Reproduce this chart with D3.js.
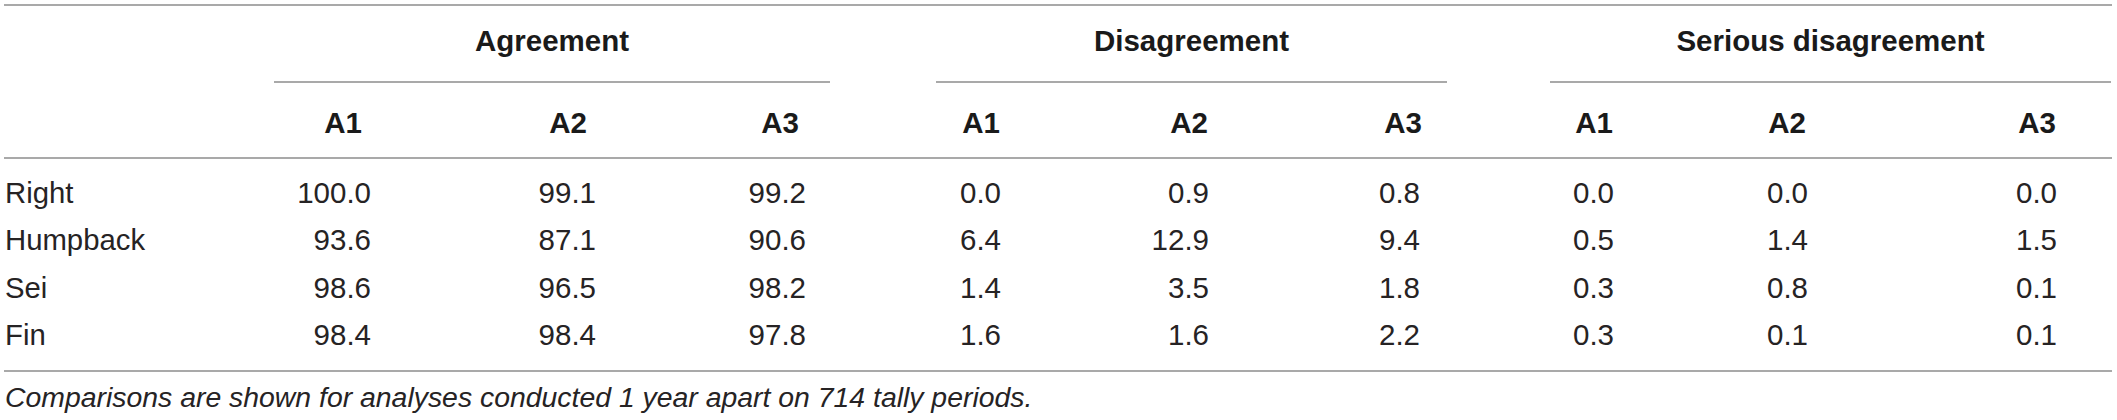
<!DOCTYPE html>
<html>
<head>
<meta charset="utf-8">
<script src="https://cdn.jsdelivr.net/npm/d3@7/dist/d3.min.js"></script>
<style>
  html, body { margin: 0; padding: 0; background: #fff; }
  svg { display: block; }
</style>
</head>
<body>
<svg id="tbl" width="2117" height="420"></svg>
<script>
// table values (percent)
const species = ['Right', 'Humpback', 'Sei', 'Fin'];
const groups = ['Agreement', 'Disagreement', 'Serious disagreement'];
const analyses = ['A1', 'A2', 'A3'];

const agreement = [
  [100.0, 99.1, 99.2],
  [93.6, 87.1, 90.6],
  [98.6, 96.5, 98.2],
  [98.4, 98.4, 97.8]
];
const disagreement = [
  [0.0, 0.9, 0.8],
  [6.4, 12.9, 9.4],
  [1.4, 3.5, 1.8],
  [1.6, 1.6, 2.2]
];
const serious = [
  [0.0, 0.0, 0.0],
  [0.5, 1.4, 1.5],
  [0.3, 0.8, 0.1],
  [0.3, 0.1, 0.1]
];
const footnote = 'Comparisons are shown for analyses conducted 1 year apart on 714 tally periods.';

const svg = d3.select('#tbl');
const font = '"Liberation Sans", Arial, Helvetica, sans-serif';
const lineColor = '#8c8c8c';
const textColor = '#262324';

// layout: group spans and column positions (header centre, number right edge)
const groupSpan = d3.scaleOrdinal().domain(groups).range([[274, 830], [936, 1447], [1550, 2111]]);
const colKeys = groups.flatMap(g => analyses.map(a => g + '|' + a));
const headX = d3.scaleOrdinal().domain(colKeys)
  .range([343, 568, 780, 981, 1189, 1403, 1594, 1787, 2037]);
const numX = d3.scaleOrdinal().domain(colKeys)
  .range([371, 596, 806, 1001, 1209, 1420, 1614, 1808, 2057]);
const rowY = d3.scalePoint().domain(species).range([203, 345]);

const values = { 'Agreement': agreement, 'Disagreement': disagreement, 'Serious disagreement': serious };
const fmt = d3.format('.1f');

// rules
const rules = [
  { x1: 4, x2: 2112, y: 5 },
  { x1: 4, x2: 2112, y: 158 },
  { x1: 4, x2: 2112, y: 371 }
];
svg.selectAll('.rule')
  .data(rules)
  .enter().append('line')
  .attr('class', 'rule')
  .attr('x1', d => d.x1)
  .attr('x2', d => d.x2)
  .attr('y1', d => d.y)
  .attr('y2', d => d.y)
  .attr('stroke', lineColor)
  .attr('stroke-width', 1.6);

// group underlines
svg.selectAll('.gline')
  .data(groups)
  .enter().append('line')
  .attr('class', 'gline')
  .attr('x1', d => groupSpan(d)[0])
  .attr('x2', d => groupSpan(d)[1])
  .attr('y1', 82)
  .attr('y2', 82)
  .attr('stroke', lineColor)
  .attr('stroke-width', 1.6);

// group titles
svg.selectAll('.gtitle')
  .data(groups)
  .enter().append('text')
  .attr('class', 'gtitle')
  .attr('x', d => (groupSpan(d)[0] + groupSpan(d)[1]) / 2)
  .attr('y', 51)
  .attr('text-anchor', 'middle')
  .attr('font-family', font)
  .attr('font-weight', 'bold')
  .attr('font-size', '29.5px')
  .attr('fill', '#1a1a1a')
  .text(d => d);

// column headers
svg.selectAll('.chead')
  .data(colKeys)
  .enter().append('text')
  .attr('class', 'chead')
  .attr('x', d => headX(d))
  .attr('y', 133)
  .attr('text-anchor', 'middle')
  .attr('font-family', font)
  .attr('font-weight', 'bold')
  .attr('font-size', '29.5px')
  .attr('fill', '#1a1a1a')
  .text(d => d.split('|')[1]);

// row labels
svg.selectAll('.rlabel')
  .data(species)
  .enter().append('text')
  .attr('class', 'rlabel')
  .attr('x', 5)
  .attr('y', d => rowY(d))
  .attr('font-family', font)
  .attr('font-size', '29.3px')
  .attr('fill', textColor)
  .text(d => d);

// cells
const cells = [];
species.forEach((s, i) => {
  groups.forEach(g => {
    analyses.forEach((a, j) => {
      cells.push({ row: s, col: g + '|' + a, v: values[g][i][j] });
    });
  });
});

svg.selectAll('.cell')
  .data(cells)
  .enter().append('text')
  .attr('class', 'cell')
  .attr('x', d => numX(d.col))
  .attr('y', d => rowY(d.row))
  .attr('text-anchor', 'end')
  .attr('font-family', font)
  .attr('font-size', '29.5px')
  .attr('fill', textColor)
  .text(d => fmt(d.v));

// footnote
svg.append('text')
  .attr('x', 5)
  .attr('y', 407)
  .attr('font-family', font)
  .attr('font-style', 'italic')
  .attr('font-size', '28.4px')
  .attr('fill', textColor)
  .text(footnote);
</script>
</body>
</html>
